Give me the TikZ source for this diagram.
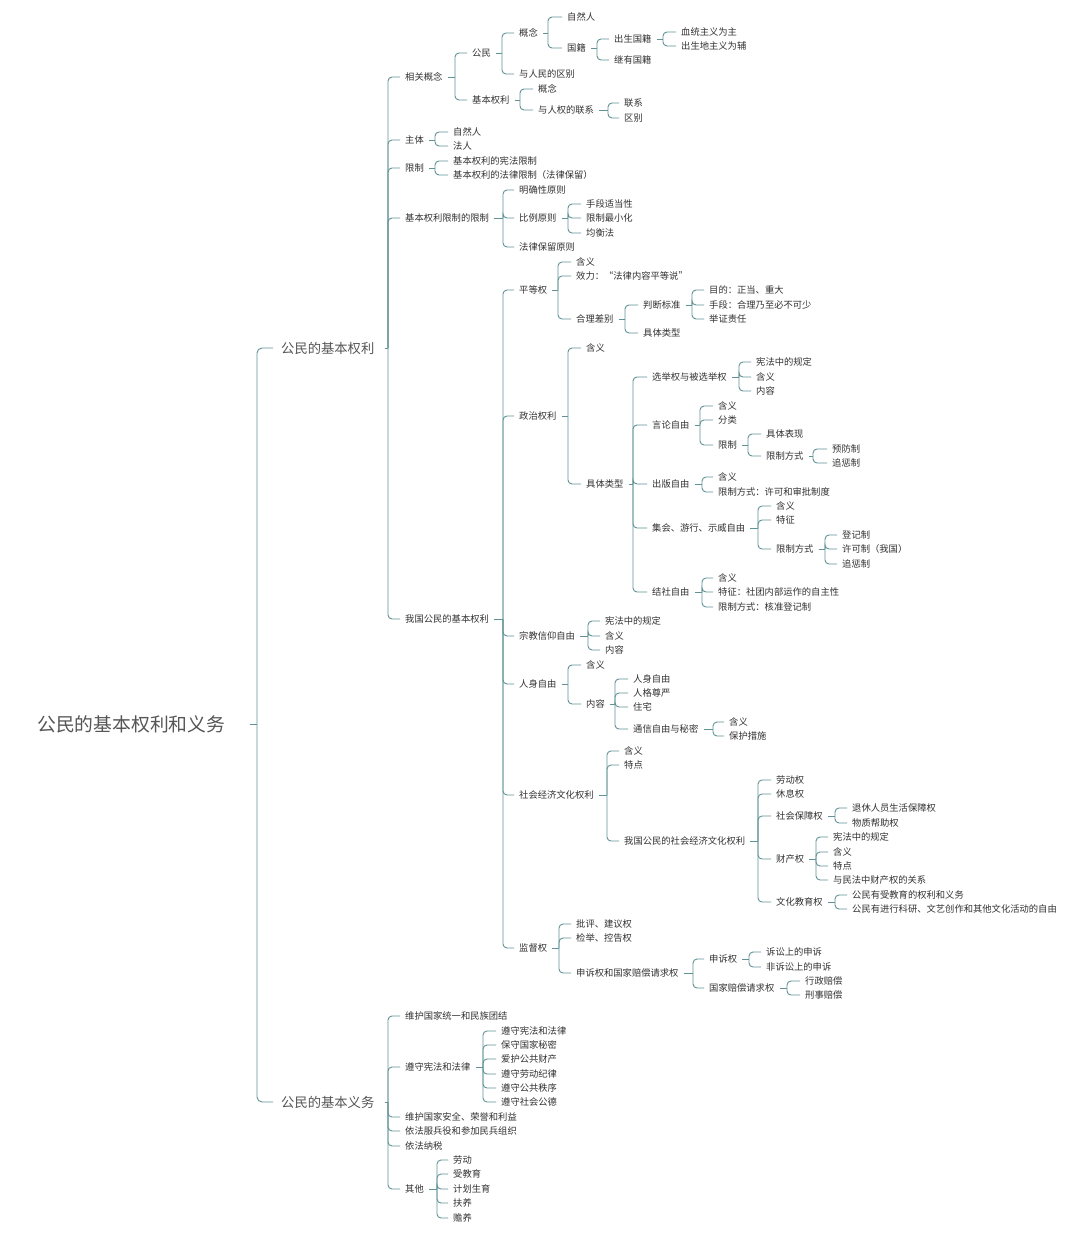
\documentclass[tikz,border=0pt]{standalone}
\usepackage{fontspec}
\setmainfont{Noto Sans CJK SC}
\definecolor{lc}{RGB}{96,146,150}
\definecolor{txt}{RGB}{50,50,50}
\definecolor{ttl}{RGB}{85,85,85}
\tikzset{
  t/.style={anchor=west,inner sep=0pt,font=\fontsize{9.3}{10}\selectfont,text=txt,text height=8.2pt,text depth=1.1pt},
  lone/.style={anchor=west,inner sep=0pt,font=\fontsize{13.3}{14}\selectfont,text=ttl,text height=11.7pt,text depth=1.6pt},
  root/.style={anchor=west,inner sep=0pt,font=\fontsize{18.8}{20}\selectfont,text=ttl,text height=16.5pt,text depth=2.3pt},
  conn/.style={draw=lc,line width=0.9pt},
}
\newcommand\N[4]{\node[t] (#1) at (#2,#3) {#4};}
\newcommand\Br[3]{%
  \coordinate (tmpx) at (#2,0);
  \coordinate (#1-b) at (#1.east -| tmpx);
  \draw[conn] ([xshift=5pt]#1.east) -- (#1-b);
  \foreach \ch in {#3}{\draw[conn,rounded corners=4pt] (#1-b) |- ([xshift=-5pt]\ch.west);}
}
\begin{document}
\begin{tikzpicture}[x=1pt,y=-1pt]
\fill[white] (0,0) rectangle (1080,1236);
\useasboundingbox (0,0) rectangle (1080,1236);
% root and level 1
\node[root] (r) at (37,724) {公民的基本权利和义务};
\node[lone] (A) at (281,348) {公民的基本权利};
\node[lone] (B) at (281,1102) {公民的基本义务};
% 相关概念
\N{xg}{405}{77}{相关概念}
\N{gm}{472}{53}{公民}
\N{gn}{519}{33}{概念}
\N{zr}{567}{17}{自然人}
\N{gj}{567}{48}{国籍}
\N{cs}{614}{39}{出生国籍}
\N{xt}{681}{32}{血统主义为主}
\N{cd}{681}{46}{出生地主义为辅}
\N{jy}{614}{60}{继有国籍}
\N{rm}{519}{74}{与人民的区别}
\N{jq}{472}{100}{基本权利}
\N{gnb}{538}{89}{概念}
\N{rq}{538}{110}{与人权的联系}
\N{lx}{624}{103}{联系}
\N{qb}{624}{118}{区别}
\N{zt}{405}{140}{主体}
\N{zrb}{453}{132}{自然人}
\N{fr}{453}{146}{法人}
\N{xz}{405}{168}{限制}
\N{xza}{453}{161}{基本权利的宪法限制}
\N{xzb}{453}{175}{基本权利的法律限制（法律保留）}
\N{xx}{405}{218}{基本权利限制的限制}
\N{mq}{519}{190}{明确性原则}
\N{bl}{519}{218}{比例原则}
\N{bla}{586}{204}{手段适当性}
\N{blb}{586}{218}{限制最小化}
\N{blc}{586}{233}{均衡法}
\N{fb}{519}{247}{法律保留原则}
\N{wg}{405}{619}{我国公民的基本权利}
% 平等权
\N{pd}{519}{290}{平等权}
\N{pda}{576}{262}{含义}
\N{pdb}{576}{276}{效力：“法律内容平等说”}
\N{hl}{576}{319}{合理差别}
\N{pb}{643}{305}{判断标准}
\N{pba}{709}{290}{目的：正当、重大}
\N{pbb}{709}{305}{手段：合理乃至必不可少}
\N{pbc}{709}{319}{举证责任}
\N{jl}{643}{333}{具体类型}
% 政治权利
\N{zz}{519}{416}{政治权利}
\N{zza}{586}{348}{含义}
\N{jt}{586}{484}{具体类型}
\N{xj}{652}{377}{选举权与被选举权}
\N{xja}{756}{362}{宪法中的规定}
\N{xjb}{756}{377}{含义}
\N{xjc}{756}{391}{内容}
\N{yl}{652}{425}{言论自由}
\N{yla}{718}{406}{含义}
\N{ylb}{718}{420}{分类}
\N{ylx}{718}{445}{限制}
\N{ylxa}{766}{434}{具体表现}
\N{ylf}{766}{456}{限制方式}
\N{ylfa}{832}{449}{预防制}
\N{ylfb}{832}{463}{追惩制}
\N{cb}{652}{484}{出版自由}
\N{cba}{718}{477}{含义}
\N{cbb}{718}{492}{限制方式：许可和审批制度}
\N{jh}{652}{528}{集会、游行、示威自由}
\N{jha}{776}{506}{含义}
\N{jhb}{776}{520}{特征}
\N{jhf}{776}{549}{限制方式}
\N{jhfa}{842}{535}{登记制}
\N{jhfb}{842}{549}{许可制（我国）}
\N{jhfc}{842}{564}{追惩制}
\N{js}{652}{592}{结社自由}
\N{jsa}{718}{578}{含义}
\N{jsb}{718}{592}{特征：社团内部运作的自主性}
\N{jsc}{718}{607}{限制方式：核准登记制}
% 宗教信仰自由
\N{zj}{519}{636}{宗教信仰自由}
\N{zja}{605}{621}{宪法中的规定}
\N{zjb}{605}{636}{含义}
\N{zjc}{605}{650}{内容}
% 人身自由
\N{rs}{519}{684}{人身自由}
\N{rsa}{586}{665}{含义}
\N{nr}{586}{704}{内容}
\N{nra}{633}{679}{人身自由}
\N{nrb}{633}{693}{人格尊严}
\N{nrc}{633}{707}{住宅}
\N{tx}{633}{729}{通信自由与秘密}
\N{txa}{729}{722}{含义}
\N{txb}{729}{736}{保护措施}
% 社会经济文化权利
\N{sh}{519}{795}{社会经济文化权利}
\N{sha}{624}{751}{含义}
\N{shb}{624}{765}{特点}
\N{wgs}{624}{841}{我国公民的社会经济文化权利}
\N{ld}{776}{780}{劳动权}
\N{xxq}{776}{794}{休息权}
\N{sb}{776}{816}{社会保障权}
\N{sba}{852}{808}{退休人员生活保障权}
\N{sbb}{852}{823}{物质帮助权}
\N{cc}{776}{859}{财产权}
\N{cca}{833}{837}{宪法中的规定}
\N{ccb}{833}{852}{含义}
\N{ccc}{833}{866}{特点}
\N{ccd}{833}{880}{与民法中财产权的关系}
\N{wj}{776}{902}{文化教育权}
\N{wja}{852}{895}{公民有受教育的权利和义务}
\N{wjb}{852}{909}{公民有进行科研、文艺创作和其他文化活动的自由}
% 监督权
\N{jd}{519}{948}{监督权}
\N{jda}{576}{924}{批评、建议权}
\N{jdb}{576}{938}{检举、控告权}
\N{ss}{576}{973}{申诉权和国家赔偿请求权}
\N{ssq}{709}{959}{申诉权}
\N{ssqa}{766}{952}{诉讼上的申诉}
\N{ssqb}{766}{967}{非诉讼上的申诉}
\N{gp}{709}{988}{国家赔偿请求权}
\N{gpa}{805}{981}{行政赔偿}
\N{gpb}{805}{995}{刑事赔偿}
% 义务
\N{ya}{405}{1016}{维护国家统一和民族团结}
\N{yb}{405}{1067}{遵守宪法和法律}
\N{yba}{501}{1031}{遵守宪法和法律}
\N{ybb}{501}{1045}{保守国家秘密}
\N{ybc}{501}{1059}{爱护公共财产}
\N{ybd}{501}{1074}{遵守劳动纪律}
\N{ybe}{501}{1088}{遵守公共秩序}
\N{ybf}{501}{1102}{遵守社会公德}
\N{yc}{405}{1117}{维护国家安全、荣誉和利益}
\N{yd}{405}{1131}{依法服兵役和参加民兵组织}
\N{ye}{405}{1146}{依法纳税}
\N{yf}{405}{1189}{其他}
\N{yfa}{453}{1160}{劳动}
\N{yfb}{453}{1174}{受教育}
\N{yfc}{453}{1189}{计划生育}
\N{yfd}{453}{1203}{扶养}
\N{yfe}{453}{1218}{赡养}
% connectors
\coordinate (tmpx) at (257,0);
\coordinate (r-b) at (r.east -| tmpx);
\draw[conn] ([xshift=25pt]r.east) -- (r-b);
\foreach \ch in {A,B}{\draw[conn,rounded corners=5pt] (r-b) |- ([xshift=-8pt]\ch.west);}
\coordinate (tmpx) at (388,0);
\coordinate (A-b) at (A.east -| tmpx);
\draw[conn] ([xshift=10pt]A.east) -- (A-b);
\foreach \ch in {xg,zt,xz,xx,wg}{\draw[conn,rounded corners=4pt] (A-b) |- ([xshift=-5pt]\ch.west);}
\coordinate (B-b) at (B.east -| tmpx);
\draw[conn] ([xshift=10pt]B.east) -- (B-b);
\foreach \ch in {ya,yb,yc,yd,ye,yf}{\draw[conn,rounded corners=4pt] (B-b) |- ([xshift=-5pt]\ch.west);}
\Br{xg}{455}{gm,jq}
\Br{gm}{502}{gn,rm}
\Br{gn}{548}{zr,gj}
\Br{gj}{597}{cs,jy}
\Br{cs}{663}{xt,cd}
\Br{jq}{520}{gnb,rq}
\Br{rq}{608}{lx,qb}
\Br{zt}{435}{zrb,fr}
\Br{xz}{435}{xza,xzb}
\Br{xx}{503}{mq,bl,fb}
\Br{bl}{568}{bla,blb,blc}
\Br{wg}{503}{pd,zz,zj,rs,sh,jd}
\Br{pd}{558}{pda,pdb,hl}
\Br{hl}{625}{pb,jl}
\Br{pb}{692}{pba,pbb,pbc}
\Br{zz}{568}{zza,jt}
\Br{jt}{633}{xj,yl,cb,jh,js}
\Br{xj}{739}{xja,xjb,xjc}
\Br{yl}{700}{yla,ylb,ylx}
\Br{ylx}{748}{ylxa,ylf}
\Br{ylf}{813}{ylfa,ylfb}
\Br{cb}{702}{cba,cbb}
\Br{jh}{758}{jha,jhb,jhf}
\Br{jhf}{825}{jhfa,jhfb,jhfc}
\Br{js}{702}{jsa,jsb,jsc}
\Br{zj}{588}{zja,zjb,zjc}
\Br{rs}{568}{rsa,nr}
\Br{nr}{615}{nra,nrb,nrc,tx}
\Br{tx}{713}{txa,txb}
\Br{sh}{607}{sha,shb,wgs}
\Br{wgs}{758}{ld,xxq,sb,cc,wj}
\Br{sb}{835}{sba,sbb}
\Br{cc}{816}{cca,ccb,ccc,ccd}
\Br{wj}{835}{wja,wjb}
\Br{jd}{559}{jda,jdb,ss}
\Br{ss}{693}{ssq,gp}
\Br{ssq}{749}{ssqa,ssqb}
\Br{gp}{787}{gpa,gpb}
\Br{yb}{483}{yba,ybb,ybc,ybd,ybe,ybf}
\Br{yf}{437}{yfa,yfb,yfc,yfd,yfe}
\end{tikzpicture}
\end{document}
